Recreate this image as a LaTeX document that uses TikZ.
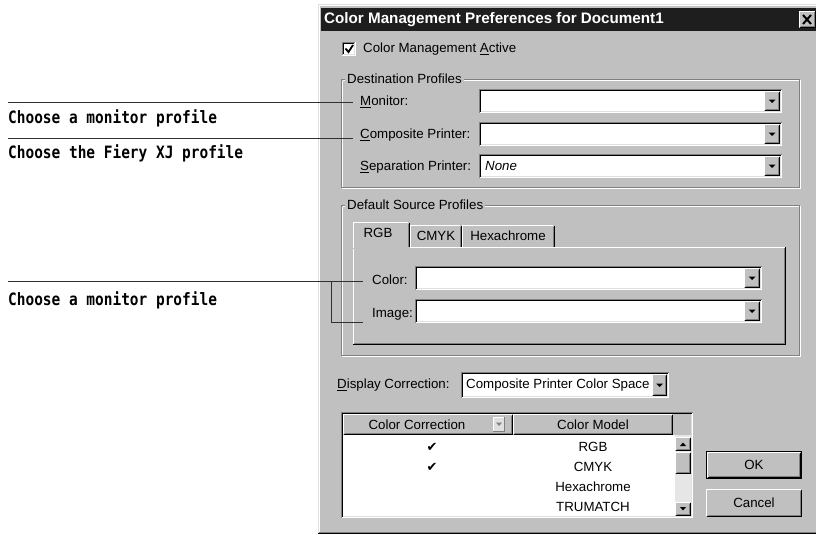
\documentclass[tikz,border=0pt]{standalone}
\usepackage{fontspec}
\setmainfont{Liberation Sans}
\newfontfamily\calloutfont[FakeStretch=0.85]{DejaVu Sans Mono}
\newfontfamily\symfont{DejaVu Sans}
\usetikzlibrary{calc}
\definecolor{winbg}{HTML}{C0C0C0}
\definecolor{winsh}{HTML}{808080}
\definecolor{winlt}{HTML}{DFDFDF}
\definecolor{titlebg}{HTML}{1E1E1E}
\definecolor{leader}{HTML}{303030}
\definecolor{track}{HTML}{E6E6E6}
\tikzset{
  ui/.style={font=\fontsize{13.3}{15}\selectfont, inner sep=0pt, anchor=west},
  uic/.style={font=\fontsize{13.3}{15}\selectfont, inner sep=0pt},
  callout/.style={font=\calloutfont\bfseries\fontsize{17}{19}\selectfont, inner sep=0pt, anchor=west},
  leaderline/.style={draw=leader, line width=0.9pt},
  grouplabel/.style={ui, fill=winbg, inner xsep=2pt},
}
\newcommand\ulk[1]{\underline{#1}}
% sunken field: x1 y1 x2 y2
\newcommand\sunkenbox[4]{%
  \fill[white] (#1,#2) rectangle (#3,#4);
  \draw[winsh, line width=1pt] (#1+0.5,#4-0.5) -- (#1+0.5,#2+0.5) -- (#3-0.5,#2+0.5);
  \draw[black, line width=1pt] (#1+1.5,#4-1.5) -- (#1+1.5,#2+1.5) -- (#3-1.5,#2+1.5);
  \draw[white, line width=1pt] (#1+0.5,#4-0.5) -- (#3-0.5,#4-0.5) -- (#3-0.5,#2+0.5);
  \draw[winlt, line width=1pt] (#1+1.5,#4-1.5) -- (#3-1.5,#4-1.5) -- (#3-1.5,#2+1.5);
}
% raised box: x1 y1 x2 y2
\newcommand\raisedbox[4]{%
  \fill[winbg] (#1,#2) rectangle (#3,#4);
  \draw[black, line width=1pt] (#1+0.5,#4-0.5) -- (#3-0.5,#4-0.5) -- (#3-0.5,#2+0.5);
  \draw[winsh, line width=1pt] (#1+1.5,#4-1.5) -- (#3-1.5,#4-1.5) -- (#3-1.5,#2+1.5);
  \draw[white, line width=1pt] (#1+0.5,#4-1) -- (#1+0.5,#2+0.5) -- (#3-1,#2+0.5);
}
% drop-down button inside a field
\newcommand\dropbtn[4]{%
  \raisedbox{#1}{#2}{#3}{#4}
  \fill[black] ($(#1,#2)!0.5!(#3,#4)+(-3.5,-1.5)$) -- ++(7,0) -- ++(-3.5,3.5) -- cycle;
}
% combo box
\newcommand\combo[4]{%
  \sunkenbox{#1}{#2}{#3}{#4}
  \dropbtn{#3-18}{#2+2}{#3-2}{#4-2}
}
% etched group box
\newcommand\groupbox[4]{%
  \draw[winsh, line width=1pt] (#1+0.5,#2+0.5) rectangle (#3-1.5,#4-1.5);
  \draw[white, line width=1pt] (#1+1.5,#2+1.5) -- (#1+1.5,#4-2.5);
  \draw[white, line width=1pt] (#1+1.5,#2+1.5) -- (#3-2.5,#2+1.5);
  \draw[white, line width=1pt] (#1+0.5,#4-0.5) -- (#3-0.5,#4-0.5) -- (#3-0.5,#2+0.5);
}
\begin{document}
\begin{tikzpicture}[x=1pt,y=-1pt]
\useasboundingbox (0,0) rectangle (816,535);
\fill[white] (0,0) rectangle (816,535);

% ---------- window ----------
\fill[winbg] (318,4) rectangle (820,534);
\draw[winlt, line width=1pt] (318.5,534) -- (318.5,4.5) -- (820,4.5);
\draw[white, line width=1pt] (319.5,533) -- (319.5,5.5) -- (820,5.5);
\draw[black, line width=1pt] (318,533.5) -- (820,533.5);
\draw[winsh, line width=1pt] (319,532.5) -- (820,532.5);

% title bar
\fill[titlebg] (321,8) rectangle (820,31);
\node[ui, anchor=west, text=white, font=\bfseries\fontsize{15.2}{17}\selectfont] (title) at (324,19.5) {Color Management Preferences for Document1};
\raisedbox{799}{11}{816}{28}
\draw[black, line width=2pt] (803,15) -- (811,24);
\draw[black, line width=2pt] (811,15) -- (803,24);

% color management active
\sunkenbox{342}{42}{356}{56}
\draw[black, line width=1.8pt] (345.5,48.5) -- (348.5,52) -- (353,45);
\node[ui] (cmactive) at (363,49) {Color Management \ulk{A}ctive};

% ---------- destination profiles ----------
\groupbox{341}{79}{801}{189}
\node[grouplabel] (destlbl) at (345,79) {Destination Profiles};

\node[ui] (monlbl) at (360,102) {\ulk{M}onitor:};
\combo{479}{89}{782}{113}
\node[ui] (complbl) at (360,135) {\ulk{C}omposite Printer:};
\combo{479}{122}{782}{146}
\node[ui] (seplbl) at (360,167) {\ulk{S}eparation Printer:};
\combo{479}{154}{782}{178}
\node[ui, font=\itshape\fontsize{13.3}{15}\selectfont] (sepval) at (485,166) {None};

% ---------- default source profiles ----------
\groupbox{341}{205}{801}{357}
\node[grouplabel] (srclbl) at (345,205) {Default Source Profiles};

% tab panel
\fill[winbg] (353,247) rectangle (786,345);
\draw[white, line width=1pt] (353.5,345) -- (353.5,247.5) -- (354,247.5);
\draw[white, line width=1pt] (410,247.5) -- (785,247.5);
\draw[black, line width=1pt] (353,344.5) -- (786,344.5);
\draw[black, line width=1pt] (785.5,345) -- (785.5,247);
\draw[winsh, line width=1pt] (354,343.5) -- (784.5,343.5) -- (784.5,248);

% tabs
\draw[white, line width=1pt] (410.5,247) -- (410.5,225.5) -- (460,225.5);
\draw[black, line width=1pt] (461.5,226) -- (461.5,247);
\draw[winsh, line width=1pt] (460.5,227) -- (460.5,247);
\draw[white, line width=1pt] (462.5,247) -- (462.5,225.5) -- (553,225.5);
\draw[black, line width=1pt] (554.5,226) -- (554.5,247);
\draw[winsh, line width=1pt] (553.5,227) -- (553.5,247);
% selected tab
\fill[winbg] (353,222) rectangle (410,248.5);
\draw[white, line width=1pt] (353.5,248) -- (353.5,222.5) -- (408,222.5);
\draw[black, line width=1pt] (409.5,223) -- (409.5,247);
\draw[winsh, line width=1pt] (408.5,224) -- (408.5,247);
\node[uic] (tabrgb) at (378,233) {RGB};
\node[uic] (tabcmyk) at (436,236) {CMYK};
\node[uic] (tabhex) at (508,236) {Hexachrome};

\node[ui] (colorlbl) at (372,280) {Color:};
\combo{415}{266}{762}{290}
\node[ui] (imagelbl) at (372,314) {Image:};
\combo{415}{299}{762}{323}

% ---------- display correction ----------
\node[ui] (displbl) at (337,385) {\ulk{D}isplay Correction:};
\sunkenbox{461}{372}{669}{398}
\node[ui] (dispval) at (466,385) {Composite Printer Color Space};
\dropbtn{652}{374}{667}{396}

% ---------- list ----------
\sunkenbox{341}{412}{693}{518}
\fill[winbg] (343,414) rectangle (691,435);
\raisedbox{343}{414}{513}{435}
\raisedbox{513}{414}{673}{435}
\node[uic] (hdr1) at (417,424.5) {Color Correction};
\node[uic] (hdr2) at (593,424.5) {Color Model};
% disabled header drop button
\fill[winlt] (493,417) rectangle (505,432);
\draw[white, line width=1pt] (493.5,432) -- (493.5,417.5) -- (505,417.5);
\draw[winsh, line width=1pt] (493,431.5) -- (504.5,431.5) -- (504.5,417);
\fill[winsh] (496,422.5) -- (502,422.5) -- (499,426) -- cycle;

% scrollbar
\fill[track] (675,435) rectangle (691,516);
\raisedbox{675}{437}{691}{451}
\fill[black] (680,446) -- (686,446) -- (683,442.5) -- cycle;
\raisedbox{675}{452}{691}{474}
\raisedbox{675}{502}{691}{516}
\fill[black] (680,507) -- (686,507) -- (683,510.5) -- cycle;

\node[uic] (rowrgb) at (593,447) {RGB};
\node[uic] (rowcmyk) at (593,467) {CMYK};
\node[uic] (rowhex) at (593,487) {Hexachrome};
\node[uic] (rowtru) at (593,507) {TRUMATCH};
\node[inner sep=0pt, font=\symfont\bfseries\fontsize{13}{14}\selectfont] (chk1) at (432,447) {✔};
\node[inner sep=0pt, font=\symfont\bfseries\fontsize{13}{14}\selectfont] (chk2) at (432,467) {✔};

% ---------- buttons ----------
\draw[black, line width=1pt] (706.5,451.5) rectangle (801.5,478.5);
\raisedbox{707}{452}{801}{478}
\node[uic] (okbtn) at (754,465) {OK};
\raisedbox{706}{489}{802}{517}
\node[uic] (cancelbtn) at (754,503) {Cancel};

% ---------- callouts ----------
\coordinate (L1) at (8,102);
\coordinate (L2) at (8,138);
\coordinate (L3) at (8,281);
\coordinate (brk) at (331,281);
\coordinate (brkend) at (363,322);
\draw[leaderline, shorten >=7pt] (L1) -- (L1 -| monlbl.west);
\draw[leaderline, shorten >=7pt] (L2) -- (L2 -| complbl.west);
\draw[leaderline, shorten >=9pt] (L3) -- (L3 -| colorlbl.west);
\draw[leaderline] (brk) |- (brkend);

\node[callout] (c1) at (8,118) {Choose a monitor profile};
\node[callout] (c2) at (8,153) {Choose the Fiery XJ profile};
\node[callout] (c3) at (8,300) {Choose a monitor profile};
\end{tikzpicture}
\end{document}
